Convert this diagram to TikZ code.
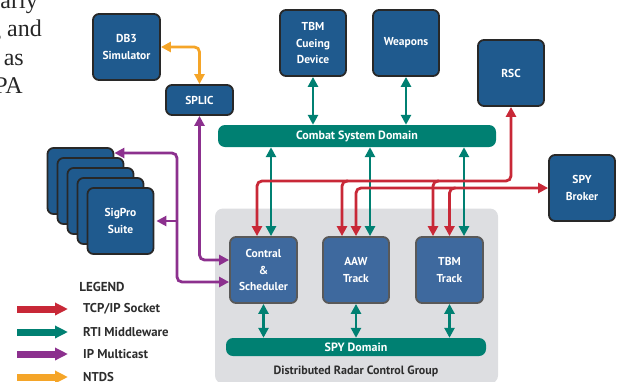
\documentclass[tikz,border=0pt]{standalone}
\usepackage{fontspec}
\setmainfont{Liberation Serif}
\setsansfont{PT Sans}
\usetikzlibrary{arrows.meta}
\definecolor{boxblue}{RGB}{31,90,142}
\definecolor{innerblue}{RGB}{62,105,158}
\definecolor{tealc}{RGB}{0,128,114}
\definecolor{redc}{RGB}{200,40,55}
\definecolor{purc}{RGB}{140,48,142}
\definecolor{orgc}{RGB}{245,165,40}
\definecolor{grp}{RGB}{221,222,225}
\definecolor{edgec}{RGB}{40,40,40}
\definecolor{txtc}{RGB}{45,45,45}
\begin{document}
\begin{tikzpicture}[x=1pt,y=-1pt,
  boxtext/.style={font=\sffamily\bfseries\fontsize{11.5}{16.5}\selectfont},
  box/.style={draw=edgec, line width=1.8pt, fill=boxblue, rounded corners=6pt, text=white, boxtext, align=center, inner sep=0pt, minimum width=66pt, minimum height=66pt},
  innerbox/.style={box, fill=innerblue, draw=black!65},
  bar/.style={fill=tealc, rounded corners=7pt, text=white, font=\sffamily\bfseries\fontsize{12}{14}\selectfont, inner sep=0pt},
  conn/.style={line width=2.8pt, rounded corners=5pt, >={Triangle[length=10pt,width=10pt]}},
  legarr/.style={line width=7pt, -{Triangle[length=13pt,width=12pt]}},
  legtext/.style={anchor=west, text=txtc, font=\sffamily\bfseries\fontsize{12.8}{14}\selectfont, inner sep=0pt},
  para/.style={anchor=base east, font=\rmfamily\fontsize{24}{28}\selectfont, inner sep=0pt, text=black!85}
]
\useasboundingbox (0,0) rectangle (618,381);

% paragraph fragments
\node[para] (p1) at (38,8) {arly};
\node[para] (p2) at (42,36.5) {g and};
\node[para] (p3) at (24,65) {as};
\node[para] (p4) at (23,93.5) {PA};

% group
\node[fill=grp, rounded corners=8pt, minimum width=283pt, minimum height=175pt, inner sep=0pt] (group) at (356.5,296) {};
\node[text=txtc, font=\sffamily\bfseries\fontsize{12}{14}\selectfont] (grouplabel) at (356,371.5) {Distributed Radar Control Group};

% bars
\node[bar, minimum width=278pt, minimum height=22pt] (combat) at (357,136) {Combat System Domain};
\node[bar, minimum width=260pt, minimum height=18pt] (spydom) at (356,347) {SPY Domain};

% top boxes
\node[box, minimum width=67pt] (db3) at (126.5,47) {DB3\\Simulator};
\node[box, minimum width=67pt, minimum height=30pt] (splic) at (199.5,100) {SPLIC};
\node[box] (cueing) at (313,43) {TBM\\Cueing\\Device};
\node[box] (weapons) at (406,43) {Weapons};
\node[box] (rsc) at (511,73) {RSC};
\node[box] (spy) at (582,188) {SPY\\Broker};

% sigpro stack
\node[box] (sig1) at (80.5,181) {};
\node[box] (sig2) at (90.5,191) {};
\node[box] (sig3) at (100.5,201) {};
\node[box] (sig4) at (110.5,211) {};
\node[box] (sig5) at (120.5,221) {SigPro\\Suite};

% inner boxes
\node[innerbox, minimum width=67pt] (contral) at (263.5,270) {Contral\\\&\\Scheduler};
\node[innerbox] (aaw) at (356,270) {AAW\\Track};
\node[innerbox, minimum width=67pt] (tbm) at (449.5,270) {TBM\\Track};

% helper coordinates
\coordinate (ru) at (0,181);
\coordinate (cR) at ([xshift=-6.5pt]contral.north);
\coordinate (cT) at ([xshift=7.5pt]contral.north);
\coordinate (aR1) at ([xshift=-14pt]aaw.north);
\coordinate (aR2) at (aaw.north);
\coordinate (aT) at ([xshift=14pt]aaw.north);
\coordinate (tR1) at ([xshift=-16.5pt]tbm.north);
\coordinate (tR2) at (tbm.north);
\coordinate (tT) at ([xshift=14.5pt]tbm.north);
\coordinate (pv) at (177,0);
\coordinate (pin1) at ([yshift=10pt]contral.west);
\coordinate (pin2) at ([yshift=-12pt]contral.west);
\coordinate (s1in) at ([yshift=28pt]sig1.east);

% teal connectors
\draw[tealc, conn, <->] (cueing.south) -- (cueing.south |- combat.north);
\draw[tealc, conn, <->] (weapons.south) -- (weapons.south |- combat.north);
\draw[tealc, conn, <->] (cT |- combat.south) -- (cT);
\draw[tealc, conn, <->] (aT |- combat.south) -- (aT);
\draw[tealc, conn, <->] (tT |- combat.south) -- (tT);
\draw[tealc, conn, <->] (contral.south) -- (contral.south |- spydom.north);
\draw[tealc, conn, <->] (aaw.south) -- (aaw.south |- spydom.north);
\draw[tealc, conn, <->] (tbm.south) -- (tbm.south |- spydom.north);

% red connectors
\draw[redc, conn, <->] (rsc.south) -- (rsc.south |- ru) -- (cR |- ru) -- (cR);
\draw[redc, conn, ->] (aR1 |- ru) ++(6,0) -- (aR1 |- ru) -- (aR1);
\draw[redc, conn, ->] (tR1 |- ru) ++(6,0) -- (tR1 |- ru) -- (tR1);
\draw[redc, conn, <->] (spy.west) -- (aR2 |- spy.west) -- (aR2);
\draw[redc, conn, ->] (tR2 |- spy.west) ++(6,0) -- (tR2 |- spy.west) -- (tR2);

% purple connectors
\draw[purc, conn, <->] (splic.south) -- (splic.south |- pin1) -- (pin1);
\draw[purc, conn, <->] (s1in) -- (pv |- s1in) -- (pv |- pin2) -- (pin2);
\draw[purc, conn, ->, shorten >=2pt] (pv |- sig5.east) -- (sig5.east);

% orange connector
\draw[orgc, conn, <->] (db3.east) -- (splic.north |- db3.east) -- (splic.north);

% legend
\node[text=txtc, font=\sffamily\bfseries\fontsize{13}{14}\selectfont] (legend) at (102,287) {LEGEND};
\coordinate (l1a) at (17,309); \coordinate (l1b) at (68,309);
\coordinate (l2a) at (17,332); \coordinate (l2b) at (68,332);
\coordinate (l3a) at (17,354); \coordinate (l3b) at (68,354);
\coordinate (l4a) at (17,377); \coordinate (l4b) at (68,377);
\draw[redc, legarr] (l1a) -- (l1b);
\draw[tealc, legarr] (l2a) -- (l2b);
\draw[purc, legarr] (l3a) -- (l3b);
\draw[orgc, legarr] (l4a) -- (l4b);
\node[legtext] (lt1) at (83,309) {TCP/IP Socket};
\node[legtext] (lt2) at (83,332) {RTI Middleware};
\node[legtext] (lt3) at (83,354) {IP Multicast};
\node[legtext] (lt4) at (83,377) {NTDS};
\end{tikzpicture}
\end{document}
